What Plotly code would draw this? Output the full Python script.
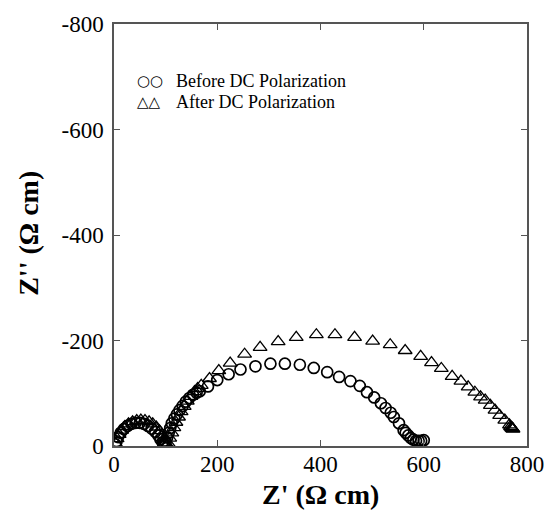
import plotly.graph_objects as go

# Before DC polarization (circles)
before_zr = [3, 5, 8, 13, 19, 26, 34, 42, 50, 58, 66, 73, 80, 86, 90, 94, 96, 97,
             98, 100, 103, 106, 109, 112, 117, 122, 127, 133, 139, 146, 153, 160, 166,
             182, 200, 222, 245, 274, 303, 331, 360, 387, 413, 436, 458, 476, 490, 504,
             517, 526, 536, 542, 552, 561, 565, 570, 575, 580, 585, 590, 595, 600]
before_zi = [-3, -9, -17, -25, -32, -38, -42, -44, -44, -42, -38, -33, -27, -20, -13, -7, -3, -1,
             -2, -8, -16, -25, -34, -43, -52, -60, -68, -76, -84, -91, -97, -101, -104,
             -113, -125, -136, -145, -151, -156, -156, -154, -148, -140, -131, -123, -114, -102, -92,
             -81, -72, -63, -55, -43, -30, -25, -20, -15, -12, -10, -10, -10, -11]

# After DC polarization (triangles)
after_zr = [3, 6, 10, 15, 21, 28, 36, 44, 52, 60, 68, 75, 82, 88, 93, 97, 100, 102,
            105, 108, 112, 116, 120, 125, 130, 136, 142, 149, 156, 162, 169,
            185, 203, 225, 253, 283, 318, 353, 392, 428, 466, 501, 535, 564, 594, 615,
            634, 655, 672, 686, 699, 710, 719, 729, 738, 747, 757, 766, 768, 770, 771, 772, 773]
after_zi = [-5, -14, -22, -30, -37, -42, -46, -48, -49, -48, -46, -42, -36, -29, -21, -13, -6, -2,
            -5, -15, -25, -35, -45, -55, -65, -75, -85, -94, -103, -109, -115,
            -128, -143, -157, -174, -187, -198, -206, -211, -211, -206, -199, -192, -181, -170, -158,
            -147, -132, -123, -112, -102, -93, -87, -77, -68, -58, -49, -40, -37, -35, -34, -33, -32]

x_ticks = [0, 200, 400, 600, 800]
y_ticks = [0, -200, -400, -600, -800]
y_ticktext = ["0", "-200", "-400", "-600", "-800"]

SERIF = "Liberation Serif, Times New Roman, serif"

fig = go.Figure()
fig.add_trace(go.Scatter(
    x=before_zr, y=before_zi, mode="markers", name="Before DC Polarization",
    marker=dict(symbol="circle-open", size=11, color="black", line=dict(width=1.7, color="black")),
))
fig.add_trace(go.Scatter(
    x=after_zr, y=after_zi, mode="markers", name="After DC Polarization",
    marker=dict(symbol="triangle-up-open", size=12, color="black", line=dict(width=1.3, color="black")),
))

axis_common = dict(
    showgrid=False, zeroline=False, showline=True, linecolor="#555", linewidth=1.5,
    mirror="ticks", ticks="inside", ticklen=6, tickcolor="#555", tickwidth=1.2,
    tickfont=dict(family=SERIF, size=23, color="black"),
)

fig.update_xaxes(range=[0, 800], tickvals=x_ticks, ticklabelstandoff=-3, **axis_common)
fig.update_yaxes(range=[0, -800], tickvals=y_ticks, ticktext=y_ticktext,
                 ticklabelstandoff=4, **axis_common)

# axis titles
fig.add_annotation(xref="paper", yref="paper", x=0.5, y=-0.115, xanchor="center", yanchor="middle",
                   text="<b>Z' (Ω cm)</b>", showarrow=False,
                   font=dict(family=SERIF, size=28, color="black"))
fig.add_annotation(xref="paper", yref="paper", x=-0.206, y=0.505, xanchor="center", yanchor="middle",
                   text="<b>Z'' (Ω cm)</b>", showarrow=False, textangle=-90,
                   font=dict(family=SERIF, size=28, color="black"))

legend_rows = [("○○", "Before DC Polarization", 0.864), ("△△", "After DC Polarization", 0.814)]
for sym, label, yy in legend_rows:
    fig.add_annotation(xref="paper", yref="paper", x=0.052, y=yy, xanchor="left", yanchor="middle",
                       text=sym, showarrow=False,
                       font=dict(family="DejaVu Sans", size=15, color="black"))
    fig.add_annotation(xref="paper", yref="paper", x=0.145, y=yy, xanchor="left", yanchor="middle",
                       text=label, showarrow=False,
                       font=dict(family=SERIF, size=18, color="black"))

fig.update_layout(
    width=556, height=521,
    margin=dict(l=114, r=20, t=22, b=75),
    paper_bgcolor="white", plot_bgcolor="white",
    showlegend=False,
)

fig.write_html("out.html")
